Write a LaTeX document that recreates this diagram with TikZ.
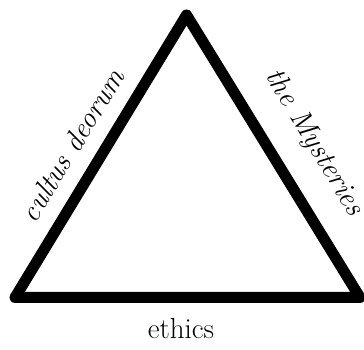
\documentclass[tikz,border=0pt]{standalone}
\begin{document}
\begin{tikzpicture}[x=1pt,y=1pt,
  tri/.style={line width=11pt, line join=round, draw=black},
  lbl/.style={font=\fontsize{29}{33}\selectfont\itshape, inner sep=0pt},
  base/.style={font=\fontsize{29}{33}\selectfont, inner sep=0pt}]
\useasboundingbox (0,0) rectangle (364,350);
\coordinate (A) at (186.5,335);
\coordinate (B) at (15,52.5);
\coordinate (C) at (360,52.5);
\draw[tri] (A) -- (B) -- (C) -- cycle;
\node[lbl, rotate=58.7] (left) at (72,205) {cultus deorum};
\node[lbl, rotate=-58.9] (right) at (314,207) {the Mysteries};
\node[base] (bottom) at (181,21) {ethics};
\end{tikzpicture}
\end{document}
